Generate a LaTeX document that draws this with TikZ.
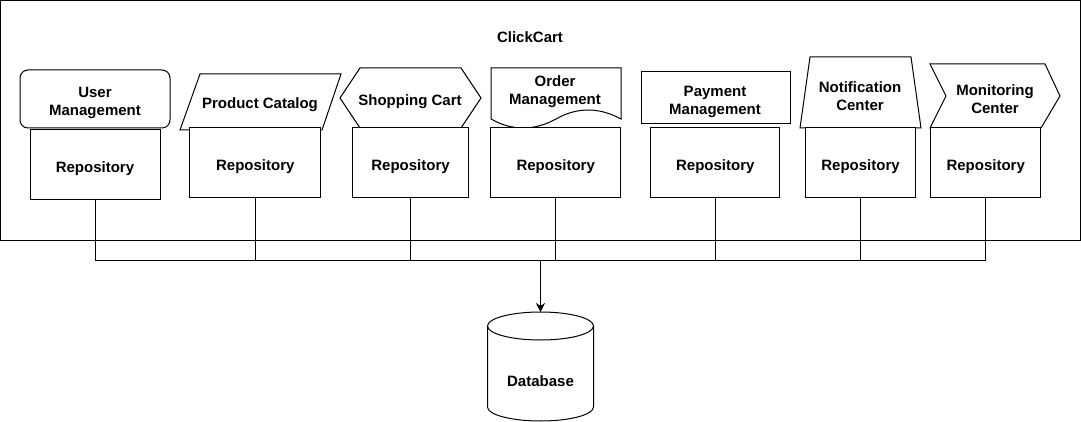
\documentclass[tikz,border=0pt]{standalone}
\usepackage{fontspec}
\setmainfont{Liberation Sans}
\usetikzlibrary{arrows.meta}

\begin{document}
\begin{tikzpicture}[x=1pt,y=1pt,line width=1pt,
  every node/.style={font=\fontsize{15}{18}\selectfont\bfseries,align=center},
  repo/.style={draw,fill=white,minimum height=70pt,inner sep=0pt,text height=14.6pt,text depth=0pt},
  head/.style={draw,fill=white}]
  \useasboundingbox (0,0) rectangle (1081,-422);
  \draw (0.5,-0.5) rectangle (1080.5,-240);
  \node (title) at (530,-37) {ClickCart};
  \draw[head,rounded corners=8pt] (20,-70) rectangle (170,-128);
  \draw[head] (180,-130) -- (200,-74) -- (341,-74) -- (322,-130) -- cycle;
  \draw[head] (340,-98) -- (360,-68) -- (461,-68) -- (481,-98) -- (461,-128) -- (360,-128) -- cycle;
  \draw[head] (491,-68) -- (621,-68) -- (621,-119) .. controls (599,-107) and (577,-107) .. (556,-119) .. controls (534,-131) and (512,-131) .. (491,-119) -- cycle;
  \draw[head] (641,-72) rectangle (790,-124);
  \draw[head] (800,-128) -- (810,-57) -- (911,-57) -- (921,-128) -- cycle;
  \draw[head] (930,-64) -- (1045,-64) -- (1060,-96) -- (1041,-128) -- (930,-128) -- (946,-96) -- cycle;
  \node (user) at (95,-103) {User\\Management};
  \node (catalog) at (260,-104.8) {Product Catalog};
  \node (cart) at (410,-101.5) {Shopping Cart};
  \node (order) at (555,-91.6) {Order\\Management};
  \node (payment) at (715,-101.6) {Payment\\Management};
  \node (notify) at (860,-96.5) {Notification\\Center};
  \node (monitor) at (995,-99.6) {Monitoring\\Center};
  \node[repo,minimum width=130pt] (repoU) at (95,-165) {Repository};
  \node[repo,minimum width=130.7pt] (repoP) at (255.3,-163) {Repository};
  \node[repo,minimum width=115.6pt] (repoS) at (410.5,-163) {Repository};
  \node[repo,minimum width=130pt] (repoO) at (555.7,-163) {Repository};
  \node[repo,minimum width=129.3pt] (repoY) at (715.3,-163) {Repository};
  \node[repo,minimum width=110.4pt] (repoN) at (860.5,-163) {Repository};
  \node[repo,minimum width=110pt] (repoM) at (985.7,-163) {Repository};
  \coordinate (bus) at (540.5,-260);
  \foreach \r in {repoU,repoP,repoS,repoO,repoY,repoN,repoM}
    \draw (\r.south) -- (\r.south |- bus);
  \draw (repoU.south |- bus) -- (repoM.south |- bus);
  \draw (540.5,-326) ellipse [x radius=53pt,y radius=14pt];
  \draw (487.5,-326) -- (487.5,-407) arc [start angle=180,end angle=360,x radius=53pt,y radius=14pt] -- (593.5,-326);
  \coordinate (dbtop) at (540.5,-312);
  \node (db) at (540.5,-381.5) {Database};
  \draw[-{Stealth[length=9pt,width=9pt]}] (bus) -- (dbtop);
\end{tikzpicture}
\end{document}
